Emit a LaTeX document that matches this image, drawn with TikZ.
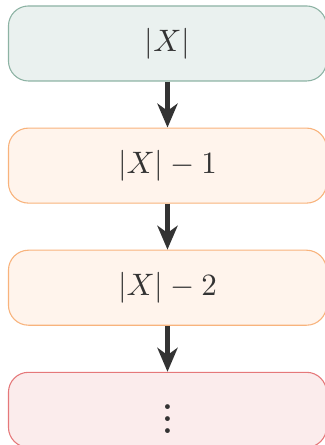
\documentclass[tikz,border=0pt]{standalone}
\usepackage{xcolor}
\usepackage{tikz}
\usetikzlibrary{arrows.meta,positioning}
\definecolor{cnInk}{HTML}{333333}
\definecolor{cnTeal}{HTML}{8DB3A4}
\definecolor{cnLightTeal}{HTML}{EAF1EF}
\definecolor{cnOrange}{HTML}{F8B37C}
\definecolor{cnLightOrange}{HTML}{FFF4EC}
\definecolor{cnRed}{HTML}{E5787A}
\definecolor{cnLightRed}{HTML}{FBECEC}
\tikzset{
  cbox/.style={rectangle,rounded corners=6.45pt,
    minimum width=102.6pt,minimum height=24.2pt,
    align=center,line width=0.35pt,
    font=\normalsize,text=cnInk},
  topbox/.style={cbox,draw=cnTeal,fill=cnLightTeal},
  midbox/.style={cbox,draw=cnOrange,fill=cnLightOrange},
  endbox/.style={cbox,draw=cnRed,fill=cnLightRed},
  arr/.style={-{Stealth[length=7.7pt,width=6.5pt,inset=2.3pt]},line width=1.6pt,color=cnInk},
}
\begin{document}
\begin{tikzpicture}[node distance=14.84pt]

  \useasboundingbox (0,0) rectangle (104.52pt,-143.55pt);

  \node[topbox] (n0) at (54.03pt,-14.03pt) {$|X|$};

  \node[midbox,below=of n0] (n1) {$|X|-1$};

  \node[midbox,below=of n1] (n2) {$|X|-2$};

  \node[endbox,below=of n2] (n3) {\bfseries$\vdots$};

  \foreach \from/\to in {n0/n1,n1/n2,n2/n3}
    \draw[arr] (\from) -- (\to);

\end{tikzpicture}
\end{document}
